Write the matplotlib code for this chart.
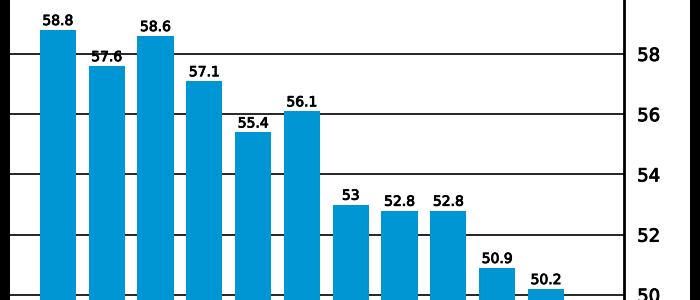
import matplotlib
matplotlib.use("Agg")
import matplotlib.pyplot as plt
import matplotlib.patheffects as pe
from matplotlib.patches import Rectangle

values = [58.8, 57.6, 58.6, 57.1, 55.4, 56.1, 53, 52.8, 52.8, 50.9, 50.2]
labels = ["58.8", "57.6", "58.6", "57.1", "55.4", "56.1", "53", "52.8", "52.8", "50.9", "50.2"]
yticks = [50, 52, 54, 56, 58]

thick = [pe.withStroke(linewidth=0.6, foreground="black")]

fig = plt.figure(figsize=(7, 3), dpi=100, facecolor="black")
fig.patches.append(Rectangle((10/700, 0), 680/700, 1, transform=fig.transFigure,
                             facecolor="white", edgecolor="none", zorder=-5))
ax = fig.add_axes([10/700, 0, 614/700, 1])
ax.set_zorder(1)
ax.set_facecolor("white")

x = list(range(len(values)))
ax.bar(x, values, width=0.74, color="#0096d4", zorder=3)
for xi, v, lab in zip(x, values, labels):
    ax.text(xi, v + 0.06, lab, ha="center", va="bottom", fontsize=10,
            color="black", family="DejaVu Sans", zorder=4, path_effects=thick)

ax.set_xlim(-0.98, 11.6)
ax.set_ylim(49.83, 59.79)
ax.set_yticks(yticks)
for t in yticks:
    ax.axhline(t, color="black", linewidth=1.2, zorder=1)
ax.yaxis.tick_right()
ax.tick_params(axis="y", length=0, pad=9.5, labelsize=13, labelcolor="black")
ax.tick_params(axis="x", bottom=False, labelbottom=False)
for lab in ax.get_yticklabels():
    lab.set_path_effects(thick)
ax.text(1.0, 60, "60", transform=ax.get_yaxis_transform(), ha="left", va="center",
        fontsize=13, clip_on=False, path_effects=thick)
for s in ["left", "top", "bottom"]:
    ax.spines[s].set_visible(False)
ax.spines["right"].set_linewidth(2)
ax.spines["right"].set_color("black")

fig.savefig("out.png", dpi=100, facecolor=fig.get_facecolor())
